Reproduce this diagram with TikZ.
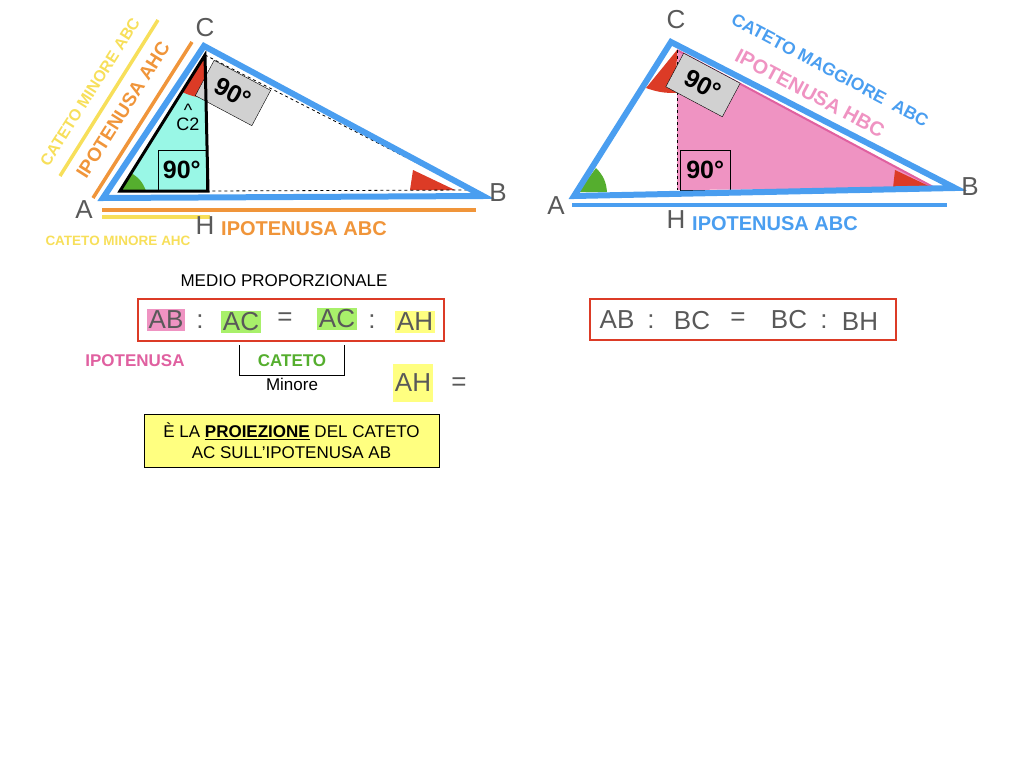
\documentclass[tikz,border=0pt]{standalone}
\usepackage{fontspec}
\setmainfont{Liberation Sans}
\begin{document}
\begin{tikzpicture}[x=1pt,y=-1pt,
  lbl/.style={text=black!65,font=\fontsize{26}{26}\selectfont},
  eq/.style={text=black!65,font=\fontsize{26}{26}\selectfont,inner sep=2pt},
  deg/.style={draw=black,font=\bfseries\fontsize{25}{25}\selectfont,inner sep=0pt}]
\definecolor{bl}{HTML}{4A9EF0}
\definecolor{org}{HTML}{F0953A}
\definecolor{yel}{HTML}{F7DF5A}
\definecolor{pk}{HTML}{EF93C2}
\definecolor{pkt}{HTML}{E060A0}
\definecolor{rd}{HTML}{DC3B26}
\definecolor{gr}{HTML}{55AE2E}
\definecolor{cy}{HTML}{99F7E6}
\definecolor{grn}{HTML}{A8F06A}
\definecolor{yb}{HTML}{FFFF80}
\useasboundingbox (0,0) rectangle (1024,768);
% ---------- left triangle
\coordinate (A) at (103,198); \coordinate (C) at (204,46); \coordinate (B) at (483,196);
\coordinate (A1) at (120,191); \coordinate (C1) at (205,55); \coordinate (H1) at (208,191); \coordinate (B1) at (470,190);
\fill[cy] (A1)--(C1)--(H1)--cycle;
\fill[rd] (C1)--(182,92) to[bend right=10] (206,98)--cycle;
\fill[gr] (A1)--(131,173) to[bend left=20] (146,191)--cycle;
\fill[rd] (455,190)--(413,170)--(410,190)--cycle;
\draw[dashed,thick] (C1)--(B1)--(H1);
\node[deg,fill=black!18,minimum width=64pt,minimum height=40pt,rotate=-28] (g1) at (233,93) {90°};
\node[deg,minimum width=48pt,minimum height=40pt,anchor=south east] (r1) at (206,190) {90°};
\draw[line width=3pt,line join=miter] (A1)--(C1)--(H1)--cycle;
\node[font=\fontsize{18}{18}\selectfont,align=center,inner sep=0pt] (c2) at (188,117) {\^{}\\[-4pt]C2};
\draw[bl,line width=6pt,line join=miter] (A)--(C)--(B)--cycle;
\draw[org,line width=3.5pt] (93,198)--(192,42);
\draw[yel,line width=3.5pt] (60,176)--(158,20);
\node[org,font=\bfseries\fontsize{19}{19}\selectfont,rotate=57.6] (t1) at (123,110) {IPOTENUSA AHC};
\node[yel,font=\bfseries\fontsize{16}{16}\selectfont,rotate=57.6] (t2) at (90,92) {CATETO MINORE ABC};
\draw[org,line width=3.5pt] (102,210)--(476,210);
\draw[yel,line width=3.5pt] (102,217)--(210,217);
\node[org,font=\bfseries\fontsize{20}{20}\selectfont] (t3) at (304,229) {IPOTENUSA ABC};
\node[yel,font=\bfseries\fontsize{13.5}{14}\selectfont] (t4) at (118,241) {CATETO MINORE AHC};
\node[lbl] (lA) at (84,210) {A};
\node[lbl] (lC) at (205,28) {C};
\node[lbl] (lH) at (205,226) {H};
\node[lbl] (lB) at (498,193) {B};
% ---------- right triangle
\coordinate (RA) at (574,196); \coordinate (RC) at (671,42); \coordinate (RB) at (955,188);
\coordinate (RC1) at (677,50); \coordinate (RH) at (677,190); \coordinate (RB1) at (935,188);
\fill[pk] (RC1)--(RH)--(RB1)--cycle;
\draw[pkt,line width=2pt] (RC1)--(RB1);
\fill[rd] (RC1)--(646,88) to[bend right=10] (676,93)--cycle;
\fill[gr] (578,192)--(596,168) to[bend left=20] (607,192)--cycle;
\fill[rd] (933,188)--(895,170)--(893,188)--cycle;
\draw[dashed,thick] (RC1)--(RH);
\node[deg,fill=black!18,minimum width=64pt,minimum height=38pt,rotate=-28] (g2) at (703,85) {90°};
\node[deg,minimum width=50pt,minimum height=40pt,anchor=south west] (r2) at (680,190) {90°};
\draw[bl,line width=6pt,line join=miter] (RA)--(RC)--(RB)--cycle;
\draw[bl,line width=3.5pt] (572,205)--(947,205);
\node[bl,font=\bfseries\fontsize{17.5}{17.5}\selectfont,rotate=-28] (t5) at (830,70) {CATETO MAGGIORE\ \ ABC};
\node[pk,font=\bfseries\fontsize{20}{20}\selectfont,rotate=-28] (t6) at (810,93) {IPOTENUSA HBC};
\node[bl,font=\bfseries\fontsize{20}{20}\selectfont] (t7) at (775,224) {IPOTENUSA ABC};
\node[lbl] (rlA) at (556,206) {A};
\node[lbl] (rlC) at (676,20) {C};
\node[lbl] (rlH) at (676,220) {H};
\node[lbl] (rlB) at (970,187) {B};
% ---------- equations
\node[font=\fontsize{17}{17}\selectfont] (mp) at (284,281) {MEDIO PROPORZIONALE};
\draw[rd,line width=1.5pt] (138,299) rectangle (444,341);
\node[eq,fill=pk] (e1) at (166,320) {AB};
\node[eq] (e2) at (200,322) {:};
\node[eq,fill=grn] (e3) at (241,322) {AC};
\node[eq] (e4) at (285,319) {=};
\node[eq,fill=grn] (e5) at (337,319) {AC};
\node[eq] (e6) at (372,322) {:};
\node[eq,fill=yb] (e7) at (415,322) {AH};
\node[pkt,font=\bfseries\fontsize{17}{17}\selectfont] (ip) at (135,361) {IPOTENUSA};
\draw[thick] (239,345)--(239,375)--(344,375)--(344,345);
\node[gr,font=\bfseries\fontsize{17}{17}\selectfont] (ct) at (292,361) {CATETO};
\node[font=\fontsize{17}{17}\selectfont] (mn) at (292,384) {Minore};
\node[eq,fill=yb,minimum height=38pt] (e8) at (413,383) {AH};
\node[eq] (e9) at (459,384) {=};
\node[draw,fill=yb,minimum width=295pt,minimum height=53pt,align=center,font=\fontsize{17}{21}\selectfont] (pr) at (291.5,440.5) {È LA \underline{\textbf{PROIEZIONE}} DEL CATETO\\AC SULL’IPOTENUSA AB};
\draw[rd,line width=1.5pt] (590,299) rectangle (896,340);
\node[eq] (f1) at (617,320) {AB};
\node[eq] (f2) at (651,322) {:};
\node[eq] (f3) at (692,321) {BC};
\node[eq] (f4) at (738,319) {=};
\node[eq] (f5) at (789,320) {BC};
\node[eq] (f6) at (824,322) {:};
\node[eq] (f7) at (860,322) {BH};
\end{tikzpicture}
\end{document}
